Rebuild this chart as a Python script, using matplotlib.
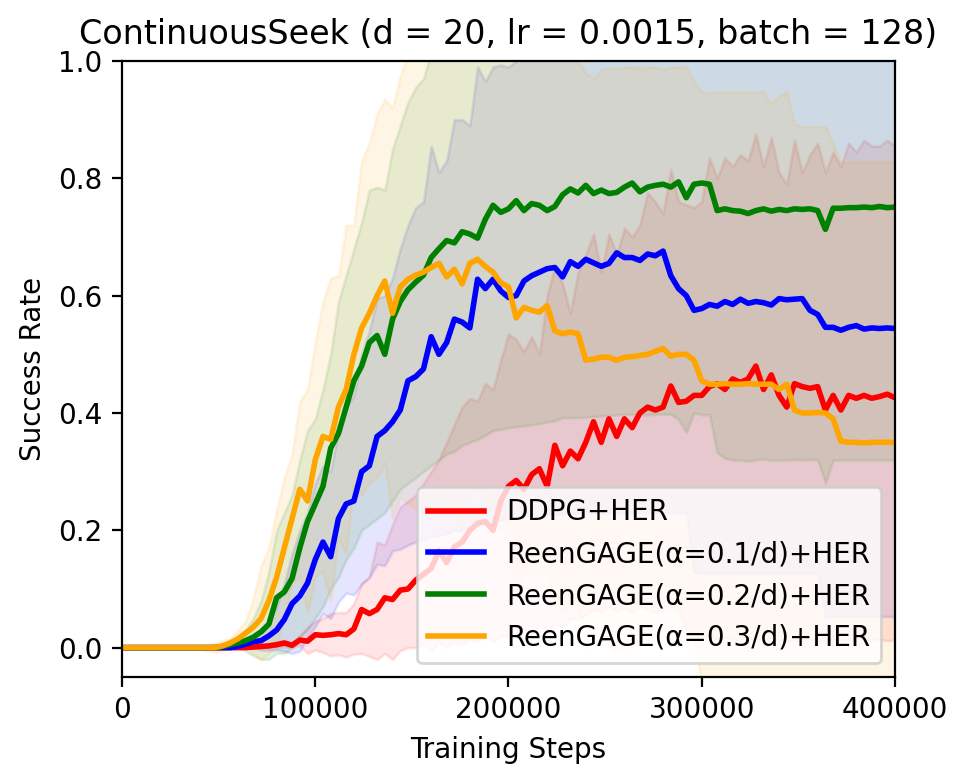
import numpy as np
import matplotlib
matplotlib.use("Agg")
import matplotlib.pyplot as plt

# training steps (one logged point every 4000 steps)
steps = np.arange(0, 400001, 4000)

labels = ["DDPG+HER", "ReenGAGE(\u03b1=0.1/d)+HER",
          "ReenGAGE(\u03b1=0.2/d)+HER", "ReenGAGE(\u03b1=0.3/d)+HER"]
colors = ["red", "blue", "green", "orange"]

##########################################################################
# DDPG+HER
red_mean = [0.0] * 17 + [
    0.001, 0.002, 0.003, 0.005, 0.008, 0.004, 0.013, 0.011, 0.022, 0.021,
    0.022, 0.024, 0.022, 0.032, 0.065, 0.058, 0.065, 0.085, 0.082, 0.098,
    0.1, 0.115, 0.125, 0.135, 0.165, 0.145, 0.172, 0.18, 0.2, 0.212,
    0.215, 0.2, 0.25, 0.275, 0.285, 0.27, 0.295, 0.305, 0.275, 0.345,
    0.31, 0.335, 0.322, 0.35, 0.385, 0.35, 0.39, 0.36, 0.39, 0.375,
    0.4, 0.41, 0.405, 0.41, 0.446, 0.418, 0.42, 0.43, 0.43, 0.445,
    0.45, 0.44, 0.458, 0.452, 0.458, 0.48, 0.44, 0.465, 0.43, 0.41,
    0.45, 0.445, 0.442, 0.445, 0.405, 0.43, 0.405, 0.43, 0.425, 0.43,
    0.425, 0.428, 0.432, 0.426]
red_hi = [0.0] * 17 + [
    0.002, 0.004, 0.006, 0.01, 0.012, 0.008, 0.02, 0.035, 0.045, 0.05,
    0.058, 0.06, 0.06, 0.075, 0.11, 0.12, 0.18, 0.175, 0.21, 0.24,
    0.25, 0.26, 0.28, 0.3, 0.32, 0.35, 0.38, 0.41, 0.425, 0.42,
    0.45, 0.44, 0.49, 0.535, 0.525, 0.505, 0.53, 0.5, 0.6, 0.65,
    0.62, 0.57, 0.64, 0.67, 0.705, 0.64, 0.705, 0.67, 0.715, 0.7,
    0.72, 0.775, 0.76, 0.74, 0.815, 0.76, 0.755, 0.75, 0.76, 0.835,
    0.8, 0.835, 0.82, 0.84, 0.83, 0.875, 0.82, 0.87, 0.81, 0.79,
    0.865, 0.81, 0.84, 0.86, 0.81, 0.845, 0.82, 0.86, 0.845, 0.865,
    0.855, 0.855, 0.865, 0.855]
red_lo = [0.0] * 17 + [
    0.0, 0.0, 0.0, 0.0, 0.002, 0.0, 0.004, -0.01, -0.004, -0.008,
    -0.014, -0.012, -0.016, -0.011, -0.01, -0.015, -0.02, -0.01, -0.02, -0.005,
    0.0, 0.0, 0.005, -0.005, 0.01, 0.0, 0.01, 0.005, 0.015, 0.01,
    0.02, 0.01, 0.02, 0.02, 0.025, 0.03, 0.02, 0.04, 0.03, 0.04,
    0.035, 0.05, 0.05, 0.055, 0.065, 0.06, 0.07, 0.062, 0.068, 0.06,
    0.07, 0.065, 0.06, 0.068, 0.07, 0.065, 0.03, 0.025, 0.02, 0.02,
    0.015, 0.018, 0.012, 0.016, 0.014, 0.018, 0.012, 0.015, 0.013, 0.01,
    0.014, 0.012, 0.015, 0.013, 0.01, 0.014, 0.012, 0.013, 0.015, 0.012,
    0.013, 0.014, 0.012, 0.013]

##########################################################################
# ReenGAGE alpha = 0.1/d
blue_mean = [0.0] * 15 + [
    0.002, 0.006, 0.01, 0.012, 0.02, 0.03, 0.048, 0.075, 0.088, 0.11,
    0.15, 0.18, 0.155, 0.22, 0.245, 0.25, 0.3, 0.31, 0.36, 0.37,
    0.385, 0.405, 0.455, 0.462, 0.475, 0.53, 0.5, 0.52, 0.56, 0.555,
    0.545, 0.628, 0.612, 0.628, 0.608, 0.597, 0.6, 0.625, 0.634, 0.64,
    0.646, 0.648, 0.632, 0.658, 0.65, 0.662, 0.656, 0.65, 0.655, 0.673,
    0.665, 0.665, 0.66, 0.671, 0.668, 0.676, 0.634, 0.612, 0.6, 0.575,
    0.578, 0.585, 0.582, 0.59, 0.585, 0.594, 0.587, 0.59, 0.588, 0.584,
    0.595, 0.593, 0.594, 0.595, 0.575, 0.568, 0.546, 0.546, 0.541, 0.546,
    0.549, 0.543, 0.545, 0.544, 0.545, 0.544]
blue_hi = [0.0] * 15 + [
    0.005, 0.01, 0.02, 0.03, 0.045, 0.07, 0.11, 0.16, 0.2, 0.23,
    0.28, 0.31, 0.3, 0.37, 0.41, 0.43, 0.5, 0.54, 0.595, 0.6,
    0.63, 0.68, 0.72, 0.75, 0.76, 0.855, 0.81, 0.83, 0.9, 0.9,
    0.89, 0.99, 0.965, 0.99, 0.993, 0.99, 1.0, 1.03, 1.05, 1.06,
    1.06, 1.065, 1.05, 1.07, 1.06, 1.08, 1.07, 1.07, 1.07, 1.09,
    1.08, 1.08, 1.08, 1.09, 1.09, 1.1, 1.06, 1.05, 1.04, 1.02,
    1.03, 1.04, 1.04, 1.05, 1.04, 1.06, 1.05, 1.05, 1.05, 1.04,
    1.06, 1.06, 1.06, 1.06, 1.03, 1.02, 1.04, 1.04, 1.03, 1.04,
    1.04, 1.03, 1.04, 1.04, 1.04, 1.04]
blue_lo = [0.0] * 15 + [
    -0.001, 0.0, 0.0, -0.004, -0.005, -0.004, -0.006, -0.01, -0.006, 0.018,
    0.036, 0.058, 0.05, 0.078, 0.093, 0.09, 0.108, 0.12, 0.142, 0.14,
    0.165, 0.168, 0.175, 0.18, 0.185, 0.19, 0.19, 0.195, 0.2, 0.2,
    0.205, 0.21, 0.212, 0.215, 0.218, 0.22, 0.222, 0.224, 0.225, 0.226,
    0.227, 0.228, 0.228, 0.229, 0.23, 0.23, 0.23, 0.23, 0.23, 0.23,
    0.23, 0.23, 0.23, 0.23, 0.23, 0.23, 0.23, 0.23, 0.23, 0.128,
    0.127, 0.127, 0.127, 0.127, 0.127, 0.127, 0.127, 0.127, 0.127, 0.127,
    0.127, 0.127, 0.127, 0.127, 0.127, 0.127, 0.053, 0.053, 0.053, 0.053,
    0.053, 0.053, 0.053, 0.053, 0.053, 0.053]

##########################################################################
# ReenGAGE alpha = 0.2/d
green_mean = [0.0] * 13 + [
    0.002, 0.005, 0.008, 0.012, 0.018, 0.027, 0.04, 0.085, 0.095, 0.118,
    0.17, 0.215, 0.245, 0.275, 0.34, 0.365, 0.41, 0.455, 0.48, 0.52,
    0.532, 0.5, 0.56, 0.59, 0.61, 0.623, 0.635, 0.665, 0.68, 0.694,
    0.69, 0.709, 0.705, 0.698, 0.73, 0.754, 0.742, 0.748, 0.762, 0.745,
    0.757, 0.754, 0.745, 0.752, 0.772, 0.782, 0.775, 0.788, 0.774, 0.78,
    0.774, 0.776, 0.785, 0.792, 0.777, 0.785, 0.788, 0.79, 0.785, 0.794,
    0.767, 0.79, 0.792, 0.79, 0.745, 0.748, 0.745, 0.744, 0.74, 0.745,
    0.748, 0.744, 0.747, 0.745, 0.748, 0.747, 0.748, 0.745, 0.713, 0.749,
    0.749, 0.75, 0.75, 0.751, 0.75, 0.752, 0.75, 0.751]
green_hi = [0.0] * 13 + [
    0.005, 0.01, 0.015, 0.03, 0.05, 0.08, 0.13, 0.2, 0.23, 0.26,
    0.32, 0.37, 0.39, 0.44, 0.5, 0.59, 0.635, 0.68, 0.725, 0.78,
    0.785, 0.78, 0.85, 0.89, 0.93, 0.955, 0.97, 1.015, 1.04, 1.058,
    1.04, 1.071, 1.06, 1.038, 1.095, 1.138, 1.112, 1.121, 1.147, 1.112,
    1.134, 1.126, 1.105, 1.117, 1.152, 1.172, 1.158, 1.183, 1.154, 1.165,
    1.152, 1.155, 1.172, 1.186, 1.157, 1.173, 1.178, 1.182, 1.172, 1.199,
    1.167, 1.18, 1.187, 1.183, 1.158, 1.173, 1.17, 1.168, 1.162, 1.17,
    1.174, 1.169, 1.174, 1.17, 1.175, 1.174, 1.175, 1.17, 1.145, 1.178,
    1.178, 1.18, 1.18, 1.182, 1.18, 1.184, 1.18, 1.182]
green_lo = [0.0] * 13 + [
    -0.001, 0.0, 0.001, -0.006, -0.014, -0.02, -0.02, -0.01, -0.01, 0.0,
    0.02, 0.03, 0.05, 0.07, 0.1, 0.12, 0.15, 0.17, 0.2, 0.21,
    0.22, 0.23, 0.25, 0.27, 0.28, 0.29, 0.3, 0.31, 0.32, 0.33,
    0.335, 0.345, 0.35, 0.355, 0.362, 0.37, 0.372, 0.375, 0.377, 0.378,
    0.38, 0.382, 0.385, 0.387, 0.392, 0.392, 0.392, 0.393, 0.394, 0.395,
    0.396, 0.397, 0.398, 0.398, 0.397, 0.397, 0.398, 0.398, 0.398, 0.389,
    0.367, 0.4, 0.397, 0.397, 0.332, 0.323, 0.32, 0.32, 0.318, 0.32,
    0.322, 0.319, 0.32, 0.32, 0.321, 0.32, 0.321, 0.32, 0.281, 0.32,
    0.32, 0.32, 0.32, 0.32, 0.32, 0.32, 0.32, 0.32]

##########################################################################
# ReenGAGE alpha = 0.3/d
orange_mean = [0.0] * 13 + [
    0.003, 0.008, 0.015, 0.025, 0.035, 0.05, 0.08, 0.12, 0.17, 0.22,
    0.27, 0.25, 0.32, 0.36, 0.355, 0.41, 0.44, 0.5, 0.545, 0.57,
    0.6, 0.625, 0.57, 0.615, 0.628, 0.635, 0.64, 0.648, 0.655, 0.632,
    0.645, 0.62, 0.655, 0.662, 0.65, 0.64, 0.622, 0.615, 0.562, 0.58,
    0.575, 0.572, 0.583, 0.54, 0.535, 0.538, 0.535, 0.49, 0.492, 0.495,
    0.495, 0.49, 0.495, 0.496, 0.498, 0.5, 0.505, 0.51, 0.497, 0.5,
    0.5, 0.49, 0.455, 0.449, 0.449, 0.45, 0.449, 0.449, 0.45, 0.449,
    0.449, 0.449, 0.44, 0.449, 0.405, 0.4, 0.4, 0.401, 0.4, 0.39,
    0.352, 0.35, 0.35, 0.349, 0.35, 0.35, 0.35, 0.35]
orange_hi = [0.0] * 10 + [
    0.002, 0.005, 0.008, 0.012, 0.016, 0.03, 0.045, 0.085, 0.14, 0.17,
    0.235, 0.29, 0.33, 0.42, 0.44, 0.52, 0.59, 0.63, 0.634, 0.72,
    0.72, 0.83, 0.86, 0.91, 0.935, 0.92, 0.975, 1.01, 1.035, 1.04,
    1.05, 1.045, 1.04, 1.045, 1.04, 1.055, 1.05, 1.05, 1.05, 1.04,
    1.035, 1.025, 1.03, 1.025, 1.02, 1.025, 1.01, 1.01, 1.005, 1.0,
    0.98, 0.97, 0.985, 0.988, 0.988, 0.99, 0.99, 0.988, 0.99, 0.99,
    0.985, 0.99, 0.99, 0.99, 0.965, 0.947, 0.946, 0.948, 0.948, 0.948,
    0.948, 0.948, 0.948, 0.948, 0.928, 0.94, 0.948, 0.893, 0.888, 0.888,
    0.888, 0.888, 0.86, 0.828, 0.828, 0.828, 0.828, 0.828, 0.828, 0.828,
    0.828]
orange_lo = [0.0] * 10 + [
    -0.002, -0.005, -0.008, -0.006, 0.0, 0.0, 0.005, -0.01, -0.02, -0.01,
    0.005, 0.05, 0.11, 0.12, 0.06, 0.12, 0.13, 0.08, 0.186, 0.16,
    0.28, 0.26, 0.28, 0.29, 0.315, 0.22, 0.255, 0.246, 0.235, 0.24,
    0.246, 0.265, 0.224, 0.245, 0.2, 0.255, 0.274, 0.25, 0.23, 0.204,
    0.195, 0.1, 0.13, 0.125, 0.124, 0.141, 0.07, 0.06, 0.071, 0.07,
    0.0, 0.014, 0.005, 0.002, -0.008, 0.0, 0.002, 0.008, 0.01, 0.02,
    0.035, 0.004, 0.01, 0.01, 0.015, -0.06, -0.06, -0.06, -0.06, -0.06,
    -0.06, -0.06, -0.06, -0.06, -0.06, -0.06, -0.06, -0.09, -0.09, -0.09,
    -0.09, -0.09, -0.09, -0.13, -0.13, -0.13, -0.13, -0.13, -0.13, -0.13,
    -0.13]

if __name__ == "__main__":
    means = [red_mean, blue_mean, green_mean, orange_mean]
    highs = [red_hi, blue_hi, green_hi, orange_hi]
    lows = [red_lo, blue_lo, green_lo, orange_lo]

    fig = plt.figure(1, figsize=(4.845, 3.91), dpi=200)
    ax = fig.add_axes([0.1259, 0.1343, 0.7977, 0.7877])
    for m, hi, lo, c, lab in zip(means, highs, lows, colors, labels):
        ax.fill_between(steps, lo, hi, color=c, alpha=0.1)
        ax.plot(steps, m, color=c, lw=2, label=lab)
    ax.set_xlim(0, 400000)
    ax.set_ylim(-0.05, 1.0)
    ax.set_xticks([0, 100000, 200000, 300000, 400000])
    ax.set_yticks([0.0, 0.2, 0.4, 0.6, 0.8, 1.0])
    ax.set_xlabel("Training Steps")
    ax.set_ylabel("Success Rate")
    ax.set_title("ContinuousSeek (d = 20, lr = 0.0015, batch = 128)")
    ax.legend(loc="lower right")
    plt.savefig("out.png", dpi=200)
